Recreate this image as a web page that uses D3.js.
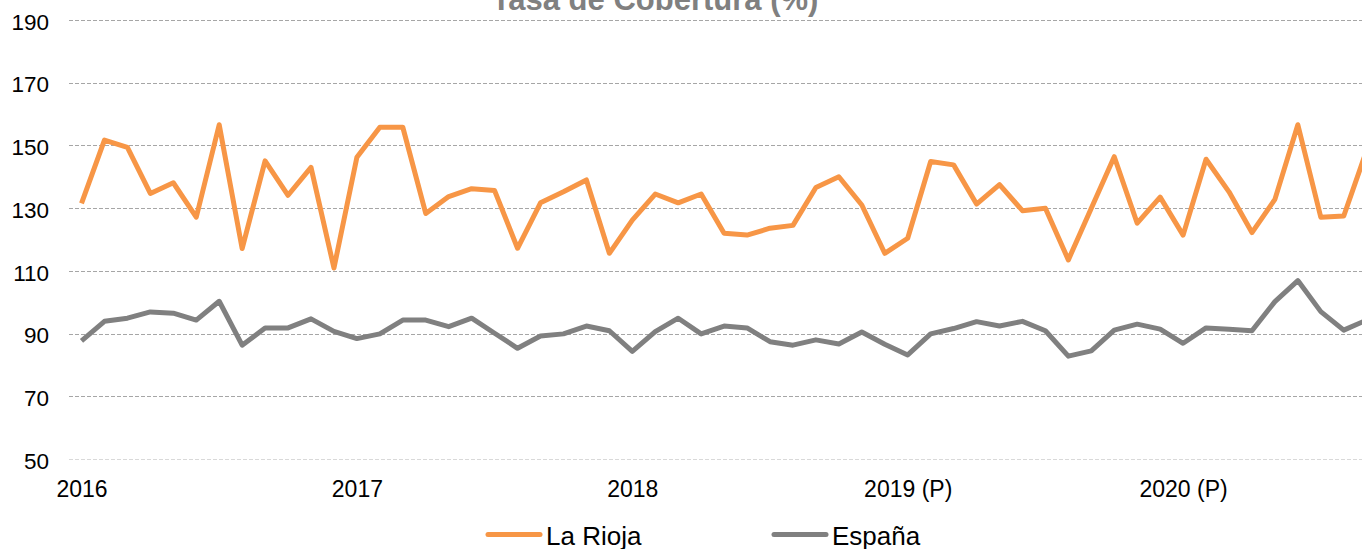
<!DOCTYPE html>
<html>
<head>
<meta charset="utf-8">
<script src="https://cdn.jsdelivr.net/npm/d3@7"></script>
<style>
  body { margin: 0; background: #fff; }
  #chart { width: 1362px; height: 549px; overflow: hidden; }
  text { font-family: Arial, "Liberation Sans", sans-serif; }
</style>
</head>
<body>
<div id="chart"></div>
<script>

// Monthly values, January 2016 to September 2020
var rioja = [131.5,151.7,149.4,134.7,138.1,127.1,156.6,117.1,145.1,134.1,143.0,110.9,
             146.2,155.8,155.8,128.3,133.7,136.2,135.6,117.2,131.7,135.2,139.0,115.6,
             126.2,134.5,131.7,134.5,122.0,121.4,123.6,124.5,136.6,140.0,131.0,115.6,
             120.4,144.9,143.8,131.3,137.5,129.2,130.0,113.5,130.0,146.4,125.2,133.5,
             121.4,145.6,135.2,122.2,132.8,156.6,127.1,127.5,148.5];

var espana = [87.7,93.9,94.9,96.9,96.5,94.3,100.3,86.3,91.8,91.8,94.7,90.7,
              88.4,89.9,94.3,94.3,92.2,94.9,90.1,85.3,89.2,89.9,92.4,90.9,
              84.3,90.6,94.9,89.9,92.4,91.8,87.4,86.3,88.0,86.7,90.5,86.6,
              83.2,89.9,91.6,93.8,92.4,93.9,90.9,82.8,84.5,91.1,93.0,91.4,
              86.9,91.8,91.4,90.9,100.2,106.9,97.0,91.1,94.3];

var yearLabels = ["2016", "2017", "2018", "2019 (P)", "2020 (P)"];
var yTicks = [50, 70, 90, 110, 130, 150, 170, 190];
var seriesNames = ["La Rioja", "España"];
var seriesColors = ["#F79646", "#808080"];

var width = 1362, height = 549;

var svg = d3.select('#chart').append('svg')
          .attr('width', width)
          .attr('height', height);

var x = d3.scaleLinear()
          .domain([0, rioja.length - 1])
          .range([81.5, 1366.7]);

var y = d3.scaleLinear()
          .domain([50, 190])
          .range([459, 20]);

// Dashed horizontal gridlines
svg.append("g").selectAll("line")
    .data(yTicks)
    .enter()
    .append("line")
    .attr("x1", 69)
    .attr("x2", width)
    .attr("y1", function(d) { return Math.round(y(d)) + 0.5; })
    .attr("y2", function(d) { return Math.round(y(d)) + 0.5; })
    .attr("stroke", function(d) { return d == 50 ? "#d9d9d9" : "#a6a6a6"; })
    .attr("stroke-width", 1)
    .attr("stroke-dasharray", "4,2");

// Y axis labels
var yAxis = svg.append("g")
    .attr("transform", "translate(49,2)")
    .call(d3.axisLeft(y).tickValues(yTicks).tickSize(0).tickPadding(0));
yAxis.select(".domain").remove();
yAxis.selectAll("text")
    .attr("font-size", "22.5px")
    .attr("font-family", "Arial, 'Liberation Sans', sans-serif")
    .attr("fill", "#000");

// X axis labels, one at each January
var xAxis = svg.append("g")
    .attr("transform", "translate(0,481)")
    .call(d3.axisBottom(x)
        .tickValues(yearLabels.map(function(d, i) { return i * 12; }))
        .tickFormat(function(d) { return yearLabels[d / 12]; })
        .tickSize(0).tickPadding(0));
xAxis.select(".domain").remove();
xAxis.selectAll("text")
    .attr("font-size", "23px")
    .attr("font-family", "Arial, 'Liberation Sans', sans-serif")
    .attr("fill", "#000");

// Title, partly cut off at the top
svg.append("text")
    .attr("x", 655)
    .attr("y", 10)
    .attr("text-anchor", "middle")
    .attr("font-size", "31px")
    .attr("font-weight", "bold")
    .attr("fill", "#808080")
    .text("Tasa de Cobertura (%)");

// The two lines
var line = d3.line()
    .x(function(d, i) { return x(i); })
    .y(function(d) { return y(d); });

svg.selectAll(".series")
    .data([rioja, espana])
    .enter()
    .append("path")
    .attr("class", "series")
    .attr("d", line)
    .attr("fill", "none")
    .attr("stroke", function(d, i) { return seriesColors[i]; })
    .attr("stroke-width", 5)
    .attr("stroke-linejoin", "round");

// Legend
var legend = svg.selectAll(".legend")
    .data(seriesNames)
    .enter()
    .append("g")
    .attr("class", "legend")
    .attr("transform", function(d, i) { return "translate(" + (488 + i * 286) + ",534.5)"; });

legend.append("line")
    .attr("x1", 0)
    .attr("x2", 52)
    .attr("stroke", function(d, i) { return seriesColors[i]; })
    .attr("stroke-width", 5)
    .attr("stroke-linecap", "round");

legend.append("text")
    .attr("x", 58)
    .attr("y", 10)
    .attr("font-size", "26px")
    .attr("fill", "#000")
    .text(function(d) { return d; });

</script>
</body>
</html>
